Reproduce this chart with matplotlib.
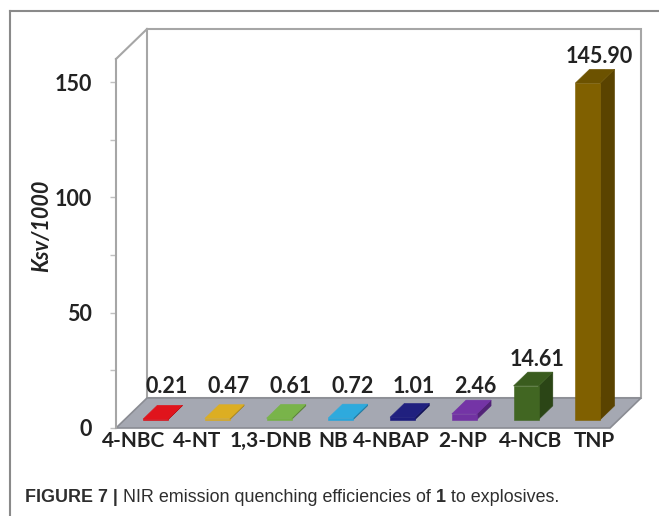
import matplotlib
matplotlib.use("Agg")
import matplotlib.pyplot as plt
from matplotlib.patches import Polygon
from matplotlib.lines import Line2D
from matplotlib.transforms import ScaledTranslation

# ---- data -------------------------------------------------------------
categories = ['4-NBC', '4-NT', '1,3-DNB', 'NB', '4-NBAP', '2-NP', '4-NCB', 'TNP']
ksv_over_1000 = [0.21, 0.47, 0.61, 0.72, 1.01, 2.46, 14.61, 145.90]
y_major_ticks = [0, 50, 100, 150]
y_minor_ticks = [25, 75, 125]

# ---- style ------------------------------------------------------------
face_colors = ['#dc0a12', '#d9a91c', '#74b044', '#26a4da',
               '#1c1c7c', '#7132a2', '#416622', '#806000']
top_colors = ['#e0141c', '#dcae22', '#79b44a', '#2eaadd',
              '#20207f', '#7434a6', '#3a5c1e', '#6c5200']
side_colors = ['#a30a0e', '#a07d14', '#567f32', '#1b78a0',
               '#131358', '#522377', '#2b4516', '#5a4300']
# horizontal nudges (px) for the category labels so they don't collide
label_nudge_px = [-13, -12, 0, 1, -2, 7, 13, 15]

W, H, DPI = 659, 516, 100
FONT = 'Lato'
TXT = '#222222'
EDGE = '#a6a6a6'
FS = 15.5
FS_CAT = 15

fig = plt.figure(figsize=(W / DPI, H / DPI), dpi=DPI)
fig.patch.set_facecolor('white')

# front plane of the 3-D box: 494 x 369 px
ax_left, ax_bottom, ax_w, ax_h = 116, 428, 494, 369
ax = fig.add_axes([ax_left / W, (H - ax_bottom) / H, ax_w / W, ax_h / H])
n = len(categories)
ax.set_xlim(-0.5, n - 0.5)
ax.set_ylim(0, 160)
ax.set_facecolor('none')

px_x = ax_w / n          # px per category
px_y = ax_h / 160.0      # px per value unit
ddx = 31 / px_x          # full depth, in data units
ddy = 30 / px_y

x0, x1, ytop = -0.5, n - 0.5, 160

# back wall + side wall outline
wall = Polygon([(x0 + ddx, ddy), (x1 + ddx, ddy), (x1 + ddx, ytop + ddy),
                (x0 + ddx, ytop + ddy)], closed=True, facecolor='white',
               edgecolor=EDGE, lw=1.5, clip_on=False, zorder=1)
ax.add_patch(wall)
ax.add_line(Line2D([x0, x0 + ddx], [ytop, ytop + ddy], color=EDGE, lw=1.5,
                   clip_on=False, zorder=1))

# floor
floor = Polygon([(x0, 0), (x1, 0), (x1 + ddx, ddy), (x0 + ddx, ddy)],
                closed=True, facecolor='#a5a8b2', edgecolor='#8a8c93',
                lw=1.2, clip_on=False, zorder=2)
ax.add_patch(floor)

# bars
hw = 12.5 / px_x
d0, d1 = 0.28, 0.74
for i, v in enumerate(ksv_over_1000):
    c = i
    ax0, ay0 = d0 * ddx, d0 * ddy
    ax1, ay1 = d1 * ddx, d1 * ddy
    front = [(c - hw + ax0, ay0), (c + hw + ax0, ay0),
             (c + hw + ax0, v + ay0), (c - hw + ax0, v + ay0)]
    side = [(c + hw + ax0, ay0), (c + hw + ax1, ay1),
            (c + hw + ax1, v + ay1), (c + hw + ax0, v + ay0)]
    top = [(c - hw + ax0, v + ay0), (c + hw + ax0, v + ay0),
           (c + hw + ax1, v + ay1), (c - hw + ax1, v + ay1)]
    for pts, col in ((side, side_colors[i]), (front, face_colors[i]),
                     (top, top_colors[i])):
        ax.add_patch(Polygon(pts, closed=True, facecolor=col, edgecolor=col,
                             lw=0.4, clip_on=False, zorder=3 + i * 0.01))
    # value label above the back edge of the bar top
    above_px = v * px_y + d1 * 30
    gap_px = max(6, 35 - above_px)
    ax.annotate(f'{v:.2f}', xy=(c + ax1, v + ay1),
                xytext=(-2, gap_px * 72 / DPI), textcoords='offset points',
                ha='center', va='baseline', fontsize=FS, fontweight='bold',
                family=FONT, color=TXT, zorder=5, annotation_clip=False)

# axes decoration
for s in ('top', 'right', 'bottom'):
    ax.spines[s].set_visible(False)
ax.spines['left'].set_color(EDGE)
ax.spines['left'].set_linewidth(1.5)
ax.spines['left'].set_zorder(4)

ax.set_yticks(y_major_ticks)
ax.set_yticks(y_minor_ticks, minor=True)
ax.set_yticklabels([str(t) for t in y_major_ticks], fontsize=FS,
                   fontweight='bold', family=FONT, color=TXT)
ax.tick_params(axis='y', which='both', direction='out', length=4,
               width=1, color='#c0c0c0', pad=13.5)

ax.set_xticks(range(n))
ax.set_xticklabels(categories, fontsize=FS_CAT, fontweight='bold',
                   family=FONT, color=TXT)
ax.tick_params(axis='x', length=0, pad=2)
for lab, nudge in zip(ax.get_xticklabels(), label_nudge_px):
    lab.set_transform(lab.get_transform() +
                      ScaledTranslation(nudge / DPI, 0, fig.dpi_scale_trans))

ax.set_ylabel('Ksv/1000', fontsize=FS, fontweight='bold', style='italic',
              family=FONT, color=TXT)
ax.yaxis.set_label_coords((52 - ax_left) / ax_w, (ax_bottom - 226) / ax_h)

# figure frame (left and top rules)
fig.add_artist(Line2D([9.5 / W, 9.5 / W], [0, (H - 10.5) / H],
                      transform=fig.transFigure, color='#8a8a8a', lw=1.5))
fig.add_artist(Line2D([9.5 / W, 1], [(H - 10.5) / H, (H - 10.5) / H],
                      transform=fig.transFigure, color='#8a8a8a', lw=1.5))

# caption
cap_kw = dict(fontsize=12.9, family='Liberation Sans', color='#2e2e2e')
t1 = fig.text(25 / W, (H - 506) / H, 'FIGURE 7 |', fontweight='bold',
              va='bottom', **cap_kw)
t2 = ax.annotate(' NIR emission quenching efficiencies of ', xy=(1, 0),
                 xycoords=t1, va='bottom', ha='left', **cap_kw)
t3 = ax.annotate('1', xy=(1, 0), xycoords=t2, va='bottom', ha='left',
                 fontweight='bold', **cap_kw)
ax.annotate(' to explosives.', xy=(1, 0), xycoords=t3, va='bottom',
            ha='left', **cap_kw)

fig.savefig('out.png', dpi=DPI)
